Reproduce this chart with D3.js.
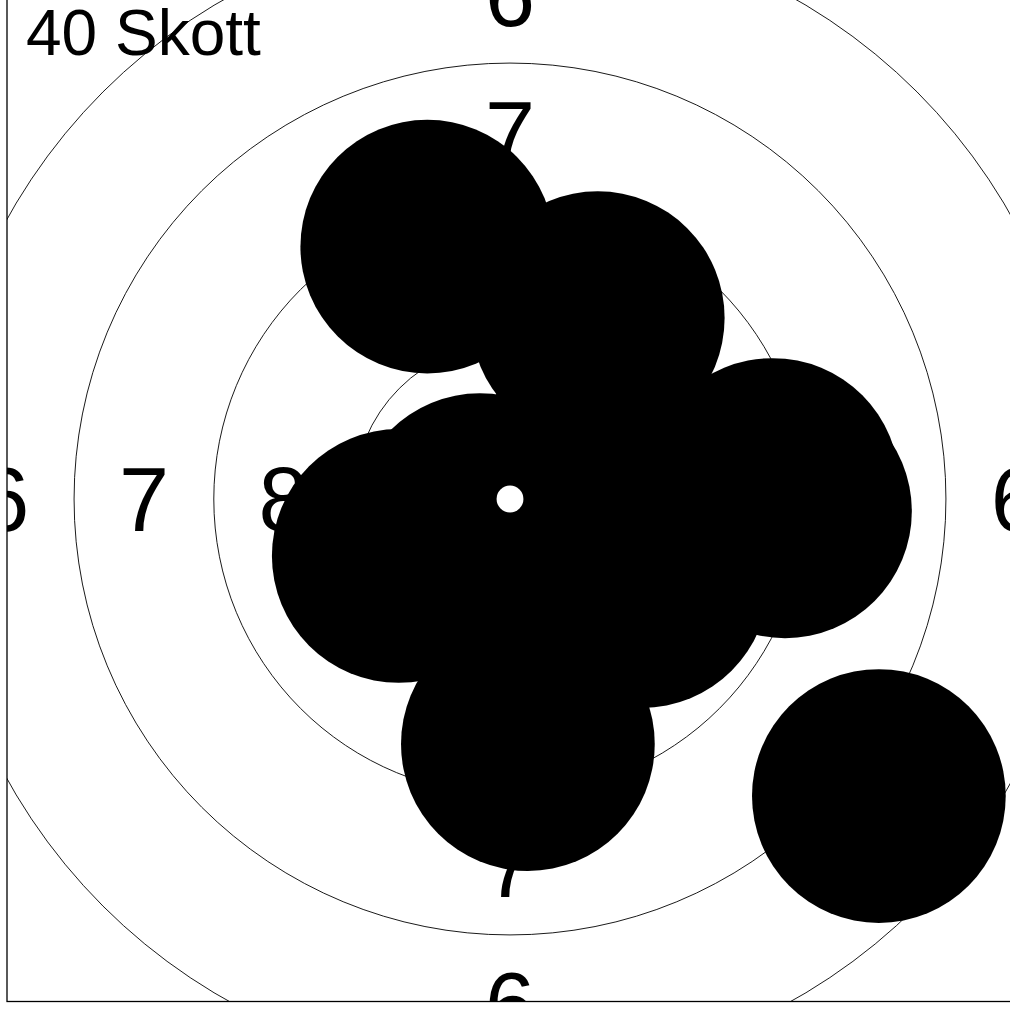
<!DOCTYPE html>
<html>
<head>
<meta charset="utf-8">
<script src="https://cdn.jsdelivr.net/npm/d3@7"></script>
<style>
  body { margin: 0; background: #fff; }
  svg { display: block; }
</style>
</head>
<body>
<div id="chart-container"></div>
<script>
((() => {
  // target rings (radius in mm) and the score bands they bound
  const ringRadii = [2.8, 5.3, 7.8, 10.3, 12.8];
  const bandScores = [8, 7, 6];
  const bandMid = [4.05, 6.55, 9.05];

  // shots, x/y in mm from centre
  const shotX = [-1.48, 1.57, 4.70, 4.92, -1.99, -0.54, 0.32, 2.36, 6.60, 1.79, 0.89, 3.22];
  const shotY = [4.52, 3.24, 0.25, -0.22, -1.02, -0.38, -4.39, -1.47, -5.32, 0.88, -1.81, -0.38];
  const shotRadius = 2.27;
  const centreRadius = 0.24;
  const title = "40 Skott";

  const shots = shotX.map((x, i) => ({x, y: shotY[i]}));

  const width = 1010;
  const height = 1011;
  const plotLeft = 7, plotRight = 1013, plotTop = -3.5, plotBottom = 1001.5;

  const x = d3.scaleLinear().domain([-9, 9]).range([plotLeft, plotRight]);
  const y = d3.scaleLinear().domain([-9, 9]).range([plotBottom, plotTop]);
  const r = v => x(v) - x(0);

  const svg = d3.create("svg")
    .attr("width", width)
    .attr("height", height)
    .attr("viewBox", [0, 0, width, height]);

  svg.append("clipPath").attr("id", "plot")
    .append("rect")
    .attr("x", plotLeft).attr("y", plotTop)
    .attr("width", plotRight - plotLeft).attr("height", plotBottom - plotTop);

  const g = svg.append("g").attr("clip-path", "url(#plot)");

  // rings
  g.append("g")
    .attr("fill", "none")
    .attr("stroke", "#000")
    .attr("stroke-width", 0.9)
    .selectAll("circle")
    .data(ringRadii)
    .join("circle")
    .attr("cx", x(0)).attr("cy", y(0))
    .attr("r", d => r(d));

  // ring numbers in four directions
  const labels = [];
  bandScores.forEach((s, i) => {
    const m = bandMid[i];
    [[-m, 0], [m, 0], [0, m], [0, -m]].forEach(([dx, dy]) => labels.push({s, dx, dy}));
  });

  g.append("g")
    .attr("font-family", "'Liberation Sans', Arial, sans-serif")
    .attr("font-size", 90)
    .attr("text-anchor", "middle")
    .selectAll("text")
    .data(labels)
    .join("text")
    .attr("x", d => x(d.dx))
    .attr("y", d => y(d.dy) + 32)
    .text(d => d.s);

  // shots
  g.append("g")
    .attr("fill", "#000")
    .selectAll("circle")
    .data(shots)
    .join("circle")
    .attr("cx", d => x(d.x))
    .attr("cy", d => y(d.y))
    .attr("r", r(shotRadius));

  // centre (10 ring)
  g.append("circle")
    .attr("cx", x(0)).attr("cy", y(0))
    .attr("r", r(centreRadius))
    .attr("fill", "#fff");

  // frame
  svg.append("rect")
    .attr("x", plotLeft).attr("y", plotTop)
    .attr("width", plotRight - plotLeft).attr("height", plotBottom - plotTop)
    .attr("fill", "none")
    .attr("stroke", "#000")
    .attr("stroke-width", 1.3);

  svg.append("text")
    .attr("x", 26)
    .attr("y", 55)
    .attr("font-family", "'Liberation Sans', Arial, sans-serif")
    .attr("font-size", 64)
    .text(title);

  d3.select("#chart-container").append(() => svg.node());
})());
</script>
</body>
</html>
